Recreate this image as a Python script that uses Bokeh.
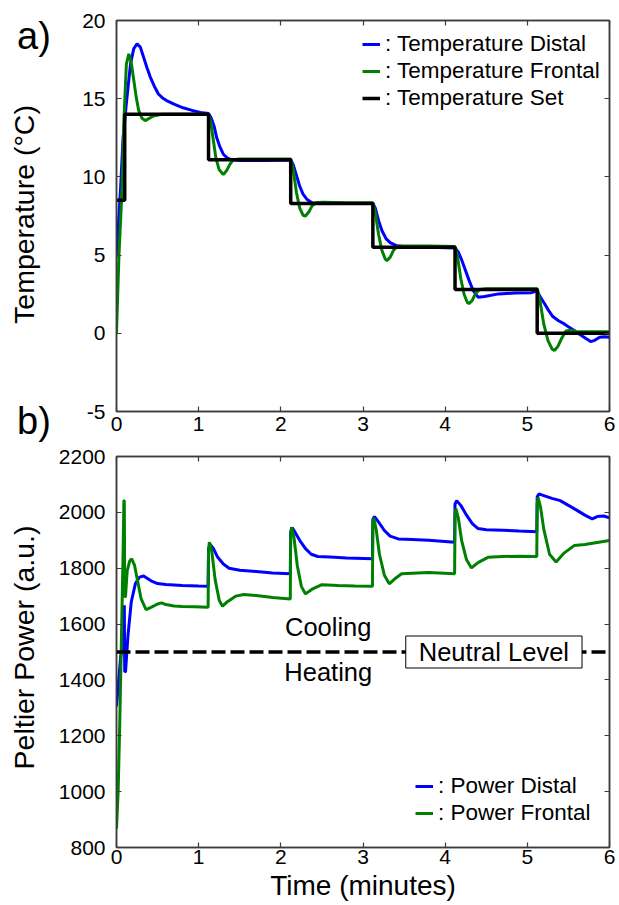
import math
from bokeh.plotting import figure
from bokeh.models import (Range1d, LinearAxis, FixedTicker, Label, Span,
                          Legend, LegendItem)
from bokeh.layouts import column, row
from bokeh.embed import file_html
from bokeh.resources import INLINE

FONT = "Liberation Sans"
AX = "#3c3c3c"
BLUE = "#0000ff"
GREEN = "#008000"

# ---------------- data ----------------
time_ticks = [0, 1, 2, 3, 4, 5, 6]
temp_ticks = [-5, 0, 5, 10, 15, 20]
power_ticks = [800, 1000, 1200, 1400, 1600, 1800, 2000, 2200]

# set temperature (step, value held until next time)
set_t = [0.0, 0.10, 1.12, 2.12, 3.12, 4.12, 5.12, 6.0]
set_temp = [8.5, 14.0, 11.1, 8.3, 5.5, 2.8, 0.0, 0.0]

distal_t = [0.0, 0.05, 0.08, 0.12, 0.17, 0.21, 0.25, 0.29, 0.33, 0.37, 0.41,
            0.46, 0.51, 0.56, 0.61, 0.7, 0.81, 0.92, 1.02, 1.12,
            1.15, 1.19, 1.22, 1.26, 1.30, 1.35, 1.40, 1.5, 1.8, 2.12,
            2.15, 2.19, 2.23, 2.27, 2.32, 2.38, 2.5, 2.8, 3.12,
            3.15, 3.19, 3.23, 3.28, 3.33, 3.40, 3.5, 3.8, 4.12,
            4.16, 4.20, 4.24, 4.29, 4.34, 4.40, 4.48, 4.65, 4.85, 5.05, 5.12,
            5.16, 5.21, 5.26, 5.31, 5.38, 5.45, 5.51, 5.57, 5.63, 5.69, 5.77,
            5.82, 5.88, 5.94, 6.0]
distal_temp = [4.9, 9.3, 12.5, 14.7, 17.2, 18.2, 18.5, 18.3, 17.65, 17.0, 16.4,
               15.8, 15.3, 15.05, 14.88, 14.65, 14.42, 14.25, 14.12, 14.05,
               13.8, 13.2, 12.5, 11.9, 11.45, 11.2, 11.1, 11.05, 11.05, 11.08,
               10.8, 10.1, 9.4, 8.9, 8.55, 8.35, 8.3, 8.3, 8.3,
               8.0, 7.2, 6.57, 6.05, 5.8, 5.62, 5.55, 5.5, 5.45,
               5.2, 4.7, 4.12, 3.4, 2.74, 2.31, 2.35, 2.52, 2.57, 2.6, 2.7,
               2.3, 1.89, 1.45, 1.07, 0.8, 0.6, 0.38, 0.18, -0.05, -0.25, -0.53,
               -0.45, -0.25, -0.22, -0.25]

frontal_t = [0.0, 0.03, 0.07, 0.09, 0.12, 0.15, 0.18, 0.21, 0.24, 0.27, 0.31,
             0.35, 0.40, 0.45, 0.55, 0.8, 1.12,
             1.15, 1.18, 1.21, 1.25, 1.30, 1.34, 1.38, 1.42, 1.5, 1.8, 2.12,
             2.15, 2.19, 2.23, 2.27, 2.30, 2.34, 2.38, 2.43, 2.5, 2.8, 3.12,
             3.15, 3.19, 3.23, 3.27, 3.29, 3.33, 3.37, 3.42, 3.5, 3.8, 4.12,
             4.15, 4.19, 4.23, 4.27, 4.29, 4.33, 4.37, 4.42, 4.5, 4.8, 5.12,
             5.15, 5.20, 5.25, 5.30, 5.33, 5.37, 5.42, 5.47, 5.53, 5.6, 5.8, 6.0]
frontal_temp = [0.0, 5.0, 9.5, 13.6, 17.2, 17.87, 17.3, 16.2, 15.1, 14.25, 13.75,
                13.6, 13.75, 13.9, 14.0, 14.0, 14.0,
                13.4, 12.3, 11.2, 10.45, 10.15, 10.4, 10.8, 11.1, 11.15, 11.15, 11.15,
                10.5, 9.0, 8.0, 7.55, 7.5, 7.75, 8.15, 8.35, 8.38, 8.35, 8.35,
                7.7, 6.3, 5.3, 4.75, 4.65, 4.85, 5.3, 5.55, 5.58, 5.58, 5.55,
                4.9, 3.5, 2.5, 1.97, 1.9, 2.1, 2.55, 2.8, 2.85, 2.85, 2.85,
                2.2, 0.6, -0.45, -1.0, -1.1, -0.85, -0.3, 0.15, 0.2, 0.1, 0.1, 0.1]

pdistal_t = [0.0, 0.05, 0.09, 0.095, 0.10, 0.11, 0.14, 0.18, 0.23, 0.28, 0.33,
             0.42, 0.5, 0.6, 0.8, 1.0, 1.115,
             1.12, 1.14, 1.18, 1.23, 1.30, 1.37, 1.5, 1.7, 1.9, 2.115,
             2.12, 2.14, 2.18, 2.24, 2.30, 2.37, 2.45, 2.6, 2.8, 3.115,
             3.12, 3.14, 3.19, 3.26, 3.33, 3.43, 3.6, 3.8, 4.115,
             4.12, 4.14, 4.19, 4.26, 4.33, 4.40, 4.5, 4.7, 4.9, 5.115,
             5.12, 5.14, 5.2, 5.3, 5.4, 5.5, 5.6, 5.7, 5.79, 5.85, 5.93, 6.0]
pdistal = [1305, 1480, 1560, 1667, 1428, 1430, 1560, 1680, 1745, 1768, 1772,
           1755, 1745, 1742, 1738, 1736, 1735,
           1870, 1885, 1870, 1840, 1815, 1800, 1793, 1788, 1783, 1780,
           1930, 1945, 1925, 1895, 1870, 1850, 1842, 1840, 1837, 1834,
           1975, 1985, 1965, 1935, 1915, 1905, 1903, 1900, 1893,
           2030, 2042, 2025, 1990, 1960, 1942, 1938, 1936, 1933, 1931,
           2055, 2066, 2060, 2050, 2042, 2025, 2008, 1990, 1977, 1985, 1987, 1980]

pfrontal_t = [0.0, 0.02, 0.04, 0.06, 0.08, 0.09, 0.095, 0.10, 0.11, 0.13, 0.16,
              0.185, 0.22, 0.26, 0.30, 0.36, 0.42, 0.5, 0.55, 0.6, 0.7, 0.8,
              0.95, 1.115,
              1.12, 1.13, 1.16, 1.20, 1.25, 1.29, 1.35, 1.45, 1.55, 1.7, 1.9, 2.115,
              2.12, 2.13, 2.16, 2.20, 2.25, 2.30, 2.38, 2.5, 2.7, 2.9, 3.115,
              3.12, 3.13, 3.16, 3.20, 3.26, 3.32, 3.40, 3.47, 3.6, 3.8, 4.115,
              4.12, 4.13, 4.16, 4.20, 4.26, 4.32, 4.40, 4.52, 4.7, 4.9, 5.115,
              5.12, 5.13, 5.16, 5.20, 5.27, 5.35, 5.45, 5.57, 5.7, 5.85, 6.0]
pfrontal = [867, 1000, 1250, 1550, 1850, 2042, 2042, 1696, 1700, 1790, 1825,
            1834, 1810, 1750, 1690, 1652, 1660, 1672, 1676, 1670, 1665, 1663,
            1662, 1660,
            1860, 1893, 1860, 1760, 1685, 1664, 1680, 1700, 1706, 1702, 1695, 1690,
            1920, 1947, 1910, 1810, 1735, 1708, 1725, 1741, 1738, 1736, 1735,
            1960, 1980, 1940, 1850, 1775, 1744, 1765, 1780, 1782, 1785, 1780,
            1990, 2013, 1980, 1900, 1830, 1801, 1820, 1839, 1842, 1843, 1842,
            2030, 2054, 2020, 1940, 1850, 1822, 1855, 1881, 1885, 1892, 1899]

neutral_level = 1500

# page layout (pixels)
TOTAL_H = 904
LEFT_W = 54
RIGHT_W = 563


# ---------------- helpers ----------------
def make_fig(width, height, y_range, y_ticks, ml, mr, mt, mb, x_std):
    p = figure(width=width, height=height, x_range=Range1d(0, 6), y_range=y_range,
               output_backend="svg", toolbar_location=None,
               x_axis_location=None, y_axis_location=None,
               min_border_left=ml, min_border_right=mr,
               min_border_top=mt, min_border_bottom=mb,
               background_fill_color="white", border_fill_color="white")
    p.grid.visible = False
    p.outline_line_color = AX
    p.outline_line_width = 1.5
    axes = {}
    for loc, ticks, show in (("below", time_ticks, True), ("above", time_ticks, False),
                             ("left", y_ticks, True), ("right", y_ticks, False)):
        ax = LinearAxis(ticker=FixedTicker(ticks=ticks))
        ax.axis_line_color = AX
        ax.axis_line_width = 1.5
        ax.major_tick_line_color = AX
        ax.major_tick_line_width = 1.2
        ax.major_tick_in = 5
        ax.major_tick_out = 0
        ax.minor_tick_line_color = None
        ax.major_label_text_font = FONT
        ax.major_label_text_font_size = "21px"
        ax.major_label_text_color = "black"
        if show:
            ax.major_label_standoff = 11 if loc == "left" else x_std
            ax.major_label_overrides = {t: str(t) for t in ticks}
        else:
            ax.major_label_overrides = {t: "" for t in ticks}
            ax.major_label_standoff = 0
        p.add_layout(ax, loc)
        axes[loc] = ax
    return p, axes


def legend(items, loc):
    return Legend(items=items, location=loc, padding=0, margin=0, spacing=1,
                  glyph_width=18, glyph_height=26, label_height=26, label_standoff=5,
                  label_text_font=FONT, label_text_font_size="22.5px",
                  label_text_color="black",
                  border_line_alpha=0, background_fill_alpha=0)


# ---------------- left strip with panel letters and y titles ----------------
side = figure(width=LEFT_W, height=TOTAL_H, x_range=Range1d(0, LEFT_W),
              y_range=Range1d(TOTAL_H, 0), output_backend="svg",
              toolbar_location=None, x_axis_location=None, y_axis_location=None,
              min_border=0, outline_line_color=None)
side.grid.visible = False
for txt, x, y in (("a)", 16.5, 35), ("b)", 16.5, 420)):
    side.add_layout(Label(x=x, y=y, text=txt, text_font=FONT, text_font_size="38px",
                          text_color="black", text_align="left",
                          text_baseline="alphabetic"))
for txt, y in (("Temperature (°C)", 214), ("Peltier Power (a.u.)", 647)):
    side.add_layout(Label(x=23, y=y, text=txt, text_font=FONT, text_font_size="28.5px",
                          text_color="black", text_align="center",
                          text_baseline="alphabetic", angle=math.pi / 2))

# ---------------- panel a ----------------
pa, _ = make_fig(RIGHT_W, 445, Range1d(-5, 20), temp_ticks, 116 - LEFT_W,
                 LEFT_W + RIGHT_W - 612, 20, 34, 5)
r1 = pa.line(distal_t, distal_temp, line_color=BLUE, line_width=3)
r2 = pa.line(frontal_t, frontal_temp, line_color=GREEN, line_width=3)
r3 = pa.step(set_t, set_temp, mode="after", line_color="black", line_width=3.5)
pa.add_layout(legend([LegendItem(label=": Temperature Distal", renderers=[r1]),
                      LegendItem(label=": Temperature Frontal", renderers=[r2]),
                      LegendItem(label=": Temperature Set", renderers=[r3])],
                     (246, 300)))

# ---------------- panel b ----------------
pb, axb = make_fig(RIGHT_W, TOTAL_H - 445, Range1d(800, 2200), power_ticks,
                   113 - LEFT_W, LEFT_W + RIGHT_W - 609, 11, TOTAL_H - 445 - 11 - 391, 2)
axb["below"].axis_label = "Time (minutes)"
axb["below"].axis_label_text_font = FONT
axb["below"].axis_label_text_font_size = "28px"
axb["below"].axis_label_text_font_style = "normal"
axb["below"].axis_label_text_color = "black"
axb["below"].axis_label_standoff = 3

pb.add_layout(Span(location=neutral_level, dimension="width", line_color="black",
                   line_width=3.5, line_dash="14 5"))
q1 = pb.line(pdistal_t, pdistal, line_color=BLUE, line_width=3)
q2 = pb.line(pfrontal_t, pfrontal, line_color=GREEN, line_width=3)
pb.add_layout(legend([LegendItem(label=": Power Distal", renderers=[q1]),
                      LegendItem(label=": Power Frontal", renderers=[q2])],
                     (299, 21)))
pb.add_layout(Label(x=4.593, y=neutral_level, text="Neutral Level", text_font=FONT,
                    text_font_size="25.5px", text_color="black", text_align="center",
                    text_baseline="middle", background_fill_color="white",
                    border_line_color="black", border_line_width=1,
                    padding=dict(left=13, right=13, top=2, bottom=2)))
pb.add_layout(Label(x=2.577, y=1589, text="Cooling", text_font=FONT,
                    text_font_size="25.5px", text_color="black", text_align="center",
                    text_baseline="alphabetic"))
pb.add_layout(Label(x=2.577, y=1428, text="Heating", text_font=FONT,
                    text_font_size="25.5px", text_color="black", text_align="center",
                    text_baseline="alphabetic"))

layout = row(side, column(pa, pb, spacing=0), spacing=0)
open("out.html", "w").write(file_html(layout, INLINE))
